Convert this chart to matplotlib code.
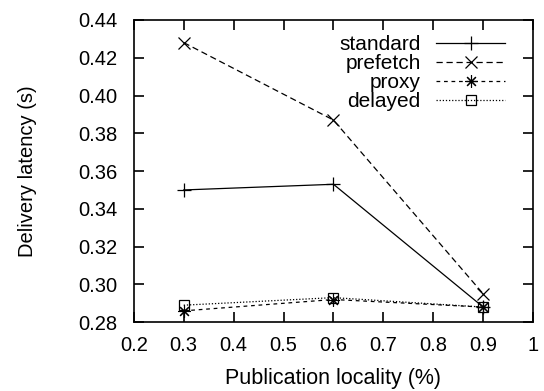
import matplotlib
matplotlib.use("Agg")
import matplotlib.pyplot as plt

locality = [0.3, 0.6, 0.9]
standard = [0.350, 0.353, 0.288]
prefetch = [0.428, 0.387, 0.295]
proxy = [0.286, 0.292, 0.288]
delayed = [0.289, 0.293, 0.288]

xticks = [0.2, 0.3, 0.4, 0.5, 0.6, 0.7, 0.8, 0.9, 1.0]
xlabels = ["0.2", "0.3", "0.4", "0.5", "0.6", "0.7", "0.8", "0.9", "1"]
yticks = [0.28, 0.30, 0.32, 0.34, 0.36, 0.38, 0.40, 0.42, 0.44]

plt.rcParams["font.family"] = ["Liberation Sans", "DejaVu Sans"]
plt.rcParams["font.size"] = 14.5

fig = plt.figure(figsize=(5.44, 3.91), dpi=100)
ax = fig.add_axes([0.246, 0.176, 0.734, 0.773])

ax.plot(locality, standard, color="k", lw=0.9, ls="-", marker="+", ms=10, mew=0.9, label="standard")
ax.plot(locality, prefetch, color="k", lw=0.9, ls=(0, (5, 3)), marker="x", ms=8, mew=0.9, label="prefetch")
ax.plot(locality, proxy, color="k", lw=0.9, ls=(0, (3, 3)), marker=(8, 2, 0), ms=9, mew=0.8, label="proxy")
ax.plot(locality, delayed, color="k", lw=0.9, ls=(0, (1, 1.5)), marker="s", ms=7, mew=0.9,
        mfc="none", label="delayed")

ax.set_xlim(0.2, 1.0)
ax.set_ylim(0.28, 0.44)
ax.set_xticks(xticks)
ax.set_xticklabels(xlabels)
ax.set_yticks(yticks)
ax.set_yticklabels(["%.2f" % v for v in yticks])
ax.tick_params(direction="in", top=True, right=True, length=7.5, width=1.2)
ax.tick_params(axis="x", pad=10)
ax.tick_params(axis="y", pad=11.5)
for s in ax.spines.values():
    s.set_linewidth(1.2)

ax.set_xlabel("Publication locality (%)", labelpad=9, fontsize=15.5)
ax.set_ylabel("Delivery latency (s)", labelpad=30)

ax.legend(loc="upper right", frameon=False, markerfirst=False, handlelength=3.3,
          labelspacing=0.0, handletextpad=0.75, borderaxespad=0, borderpad=0,
          bbox_to_anchor=(0.93, 0.95), prop={"size": 15})

fig.savefig("out.png", dpi=100)
